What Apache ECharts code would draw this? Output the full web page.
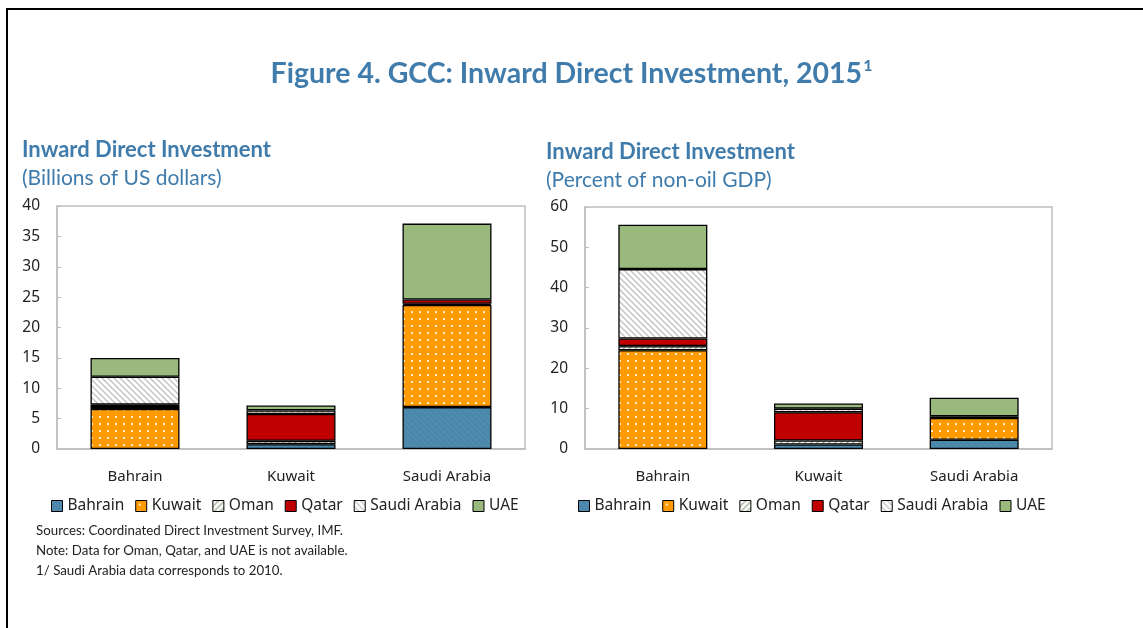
<!DOCTYPE html>
<html>
<head>
<meta charset="utf-8">
<script src="https://cdn.jsdelivr.net/npm/echarts@6/dist/echarts.min.js"></script>
<style>
  html, body { margin: 0; padding: 0; background: #fff; }
  #main { width: 1143px; height: 628px; }
</style>
</head>
<body>
<div id="main"></div>
<script>
  // categories and legend names
  var categories = ['Bahrain', 'Kuwait', 'Saudi Arabia'];
  var investors = ['Bahrain', 'Kuwait', 'Oman', 'Qatar', 'Saudi Arabia', 'UAE'];

  // left panel: billions of US dollars (one array per investor country)
  var bahrainUsd = [0, 0.8, 6.9];
  var kuwaitUsd  = [6.6, 0, 16.8];
  var omanUsd    = [0.3, 0.55, 0.2];
  var qatarUsd   = [0.4, 4.4, 0.7];
  var saudiUsd   = [4.6, 0.6, 0];
  var uaeUsd     = [3.1, 0.8, 12.5];

  // right panel: percent of non-oil GDP
  var bahrainPct = [0, 1.1, 2.3];
  var kuwaitPct  = [24.5, 0, 5.4];
  var omanPct    = [1.0, 1.0, 0];
  var qatarPct   = [1.9, 7.0, 0.4];
  var saudiPct   = [17.2, 0.9, 0];
  var uaePct     = [11.0, 1.3, 4.6];

  var usdData = [bahrainUsd, kuwaitUsd, omanUsd, qatarUsd, saudiUsd, uaeUsd];
  var pctData = [bahrainPct, kuwaitPct, omanPct, qatarPct, saudiPct, uaePct];

  // fill patterns
  function tile(w, h, draw) {
    var c = document.createElement('canvas');
    c.width = w; c.height = h;
    draw(c.getContext('2d'), w, h);
    return { image: c, repeat: 'repeat' };
  }
  var blueFill = tile(6, 6, function (g, w, h) {
    g.fillStyle = '#4a87ab'; g.fillRect(0, 0, w, h);
    g.strokeStyle = '#5691b4'; g.lineWidth = 1;
    g.beginPath(); g.moveTo(0, 0); g.lineTo(w, h); g.stroke();
  });
  var dotFill = tile(8, 7, function (g, w, h) {
    g.fillStyle = '#ff9a00'; g.fillRect(0, 0, w, h);
    g.fillStyle = '#ffe9d0'; g.fillRect(3, 3, 2, 2);
  });
  var omanFill = tile(6, 6, function (g, w, h) {
    g.fillStyle = '#ffffff'; g.fillRect(0, 0, w, h);
    g.strokeStyle = '#9fae90'; g.lineWidth = 1.3;
    g.beginPath(); g.moveTo(0, h); g.lineTo(w, 0);
    g.moveTo(-1, 1); g.lineTo(1, -1);
    g.moveTo(w - 1, h + 1); g.lineTo(w + 1, h - 1); g.stroke();
  });
  var saudiFill = tile(6, 6, function (g, w, h) {
    g.fillStyle = '#ffffff'; g.fillRect(0, 0, w, h);
    g.strokeStyle = '#c4c4c4'; g.lineWidth = 1.5;
    g.beginPath(); g.moveTo(0, 0); g.lineTo(w, h);
    g.moveTo(w - 1, -1); g.lineTo(w + 1, 1);
    g.moveTo(-1, h - 1); g.lineTo(1, h + 1); g.stroke();
  });
  var fills = [blueFill, dotFill, omanFill, '#c00000', saudiFill, '#99ba7c'];

  var axisGrey = '#bfbfbf';
  var labelFont = '"Noto Sans", sans-serif';
  var blueText = '#3f7bab';

  function buildSeries(data, axisIdx, stack) {
    return investors.map(function (name, i) {
      return {
        name: name,
        type: 'bar',
        stack: stack,
        xAxisIndex: axisIdx,
        yAxisIndex: axisIdx,
        barWidth: 89,
        data: data[i].map(function (v) { return v === 0 ? '-' : v; }),
        itemStyle: { color: fills[i], borderColor: '#000', borderWidth: 1.3 },
        emphasis: { disabled: true }
      };
    });
  }

  function xAxis(gi) {
    return {
      type: 'category', gridIndex: gi, data: categories,
      axisLine: { lineStyle: { color: axisGrey, width: 1.5 } },
      axisTick: { inside: true, length: 5, lineStyle: { color: axisGrey } },
      axisLabel: { color: '#222', fontSize: 15, fontFamily: labelFont, margin: 20 }
    };
  }
  function yAxis(gi, max, step) {
    return {
      type: 'value', gridIndex: gi, min: 0, max: max, interval: step,
      axisLine: { show: true, lineStyle: { color: axisGrey, width: 1.5 } },
      axisTick: { show: true, inside: true, length: 4, lineStyle: { color: axisGrey } },
      splitLine: { show: false },
      axisLabel: { color: '#222', fontSize: 15.5, fontFamily: labelFont, margin: 17 }
    };
  }
  function legend(left) {
    return {
      data: investors, left: left, top: 493, width: 530,
      icon: 'rect', itemWidth: 11, itemHeight: 11, itemGap: 11,
      selectedMode: false,
      itemStyle: { borderColor: '#000', borderWidth: 1 },
      textStyle: { color: '#222', fontSize: 15.5, fontFamily: labelFont, padding: [0, 0, 0, 0] }
    };
  }

  var chart = echarts.init(document.getElementById('main'));
  chart.setOption({
    animation: false,
    title: [{
      text: '{t|Figure 4. GCC: Inward Direct Investment, 2015}{s|1}',
      left: 'center', top: 53,
      textStyle: {
        rich: {
          t: { fontFamily: 'Lato', fontWeight: 'bold', fontSize: 28.5, color: blueText },
          s: { fontFamily: 'Lato', fontWeight: 'bold', fontSize: 16, color: blueText, verticalAlign: 'top', padding: [0, 0, 16, 1] }
        }
      }
    }, {
      text: 'Inward Direct Investment', subtext: '(Billions of US dollars)',
      left: 17, top: 134, itemGap: 7,
      textStyle: { fontFamily: 'Lato', fontWeight: 'bold', fontSize: 22, color: blueText },
      subtextStyle: { fontFamily: 'Lato', fontSize: 21, color: blueText }
    }, {
      text: 'Inward Direct Investment', subtext: '(Percent of non-oil GDP)',
      left: 541, top: 136, itemGap: 7,
      textStyle: { fontFamily: 'Lato', fontWeight: 'bold', fontSize: 22, color: blueText },
      subtextStyle: { fontFamily: 'Lato', fontSize: 21, color: blueText }
    }],
    legend: [legend(46), legend(573)],
    grid: [
      { left: 57, right: 618, top: 206, bottom: 179, show: true, borderColor: axisGrey, borderWidth: 1.5 },
      { left: 585, right: 91, top: 207, bottom: 179, show: true, borderColor: axisGrey, borderWidth: 1.5 }
    ],
    xAxis: [xAxis(0), xAxis(1)],
    yAxis: [yAxis(0, 40, 5), yAxis(1, 60, 10)],
    series: buildSeries(usdData, 0, 'usd').concat(buildSeries(pctData, 1, 'pct')),
    graphic: [{
      type: 'rect', silent: true,
      shape: { x: 7, y: 9, width: 1300, height: 800 },
      style: { fill: 'none', stroke: '#000', lineWidth: 2 }
    }, {
      type: 'text', left: 36, top: 521, silent: true,
      style: {
        text: 'Sources: Coordinated Direct Investment Survey, IMF.\nNote: Data for Oman, Qatar, and UAE is not available.\n1/ Saudi Arabia data corresponds to 2010.',
        font: '13.3px Lato', lineHeight: 20, fill: '#222'
      }
    }]
  });
</script>
</body>
</html>
